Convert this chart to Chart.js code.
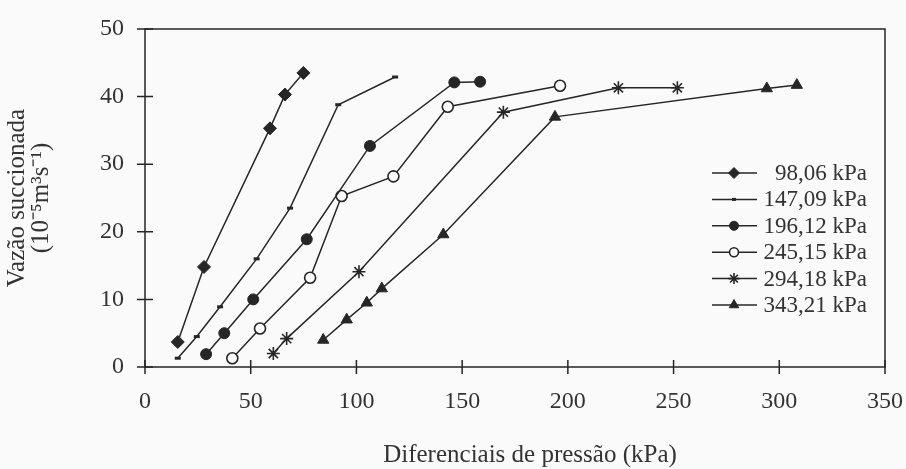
<!DOCTYPE html>
<html>
<head>
<meta charset="utf-8">
<script src="https://cdn.jsdelivr.net/npm/chart.js@4/dist/chart.umd.min.js"></script>
<style>
  html, body { margin: 0; padding: 0; background: #fafafa; }
  #wrap { width: 906px; height: 469px; }
</style>
</head>
<body>
<div id="wrap"><canvas id="chart" width="906" height="469"></canvas></div>
<script>
const SERIES_LABELS = ["98,06 kPa", "147,09 kPa", "196,12 kPa", "245,15 kPa", "294,18 kPa", "343,21 kPa"];

const p98x = [15.5, 27.9, 59.1, 66.2, 74.9];
const p98y = [3.7, 14.8, 35.3, 40.3, 43.5];

const p147x = [15.5, 24.5, 35.5, 52.8, 68.6, 91.4, 118.3];
const p147y = [1.3, 4.5, 8.9, 16.0, 23.5, 38.8, 42.9];

const p196x = [28.9, 37.5, 51.2, 76.5, 106.4, 146.3, 158.5];
const p196y = [1.9, 5.0, 10.0, 18.9, 32.7, 42.1, 42.2];

const p245x = [41.3, 54.4, 78.1, 93.0, 117.5, 143.2, 196.3];
const p245y = [1.3, 5.7, 13.2, 25.3, 28.2, 38.5, 41.6];

const p294x = [60.7, 67.0, 101.2, 169.5, 223.9, 251.8];
const p294y = [2.0, 4.2, 14.1, 37.7, 41.3, 41.3];

const p343x = [84.3, 95.4, 104.9, 112.0, 141.1, 193.9, 294.1, 308.3];
const p343y = [4.0, 7.0, 9.5, 11.6, 19.6, 37.0, 41.2, 41.7];

const X_TITLE = "Diferenciais de pressão (kPa)";
const Y_TITLE = ["Vazão succionada", "(10\u207B\u2075m\u00B3s\u207B\u00B9)"];

const INK = "#262626";
const TEXT = "#333333";
const FONT = "'Liberation Serif', 'Times New Roman', serif";

function toPoints(xs, ys) {
  return xs.map((x, i) => ({ x, y: ys[i] }));
}

const markers = [
  { pointStyle: "rectRot", pointRadius: 6.5, pointBackgroundColor: INK, pointBorderWidth: 1 },
  { pointStyle: "line", pointRadius: 3, pointBackgroundColor: INK, pointBorderWidth: 3 },
  { pointStyle: "circle", pointRadius: 5.5, pointBackgroundColor: INK, pointBorderWidth: 1 },
  { pointStyle: "circle", pointRadius: 5.5, pointBackgroundColor: "#fafafa", pointBorderWidth: 1.6 },
  { pointStyle: "star", pointRadius: 6.5, pointBackgroundColor: INK, pointBorderWidth: 1.6 },
  { pointStyle: "triangle", pointRadius: 6.5, pointBackgroundColor: INK, pointBorderWidth: 1 },
];

const allPoints = [
  toPoints(p98x, p98y),
  toPoints(p147x, p147y),
  toPoints(p196x, p196y),
  toPoints(p245x, p245y),
  toPoints(p294x, p294y),
  toPoints(p343x, p343y),
];

const datasets = allPoints.map((data, i) => ({
  label: SERIES_LABELS[i],
  data,
  showLine: true,
  tension: 0,
  borderColor: INK,
  borderWidth: 1.5,
  pointBorderColor: INK,
  pointHoverRadius: markers[i].pointRadius,
  ...markers[i],
}));

// frame around the plot, tick marks that cross the axes, x title a bit right of centre
const framePlugin = {
  id: "frame",
  afterDraw(chart) {
    const { ctx, chartArea: a, scales } = chart;
    ctx.save();
    ctx.strokeStyle = INK;
    ctx.lineWidth = 1.5;
    ctx.strokeRect(a.left, a.top, a.right - a.left, a.bottom - a.top);
    ctx.beginPath();
    scales.x.ticks.forEach((t) => {
      const px = scales.x.getPixelForValue(t.value);
      ctx.moveTo(px, a.bottom - 7);
      ctx.lineTo(px, a.bottom + 7);
    });
    scales.y.ticks.forEach((t) => {
      const py = scales.y.getPixelForValue(t.value);
      ctx.moveTo(a.left - 8, py);
      ctx.lineTo(a.left + 8, py);
    });
    ctx.stroke();

    ctx.font = `25px ${FONT}`;
    ctx.fillStyle = TEXT;
    ctx.textAlign = "center";
    ctx.textBaseline = "middle";
    ctx.fillText(X_TITLE, (a.left + a.right) / 2 + 15, a.bottom + 88);
    ctx.restore();
  },
};

// legend drawn inside the plot: line sample, marker, right-aligned label
const legendPlugin = {
  id: "innerLegend",
  afterDraw(chart) {
    const { ctx, chartArea: a } = chart;
    ctx.save();
    ctx.font = `23px ${FONT}`;
    ctx.textAlign = "right";
    ctx.textBaseline = "middle";
    chart.data.datasets.forEach((ds, i) => {
      const y = a.top + 144 + i * 26.4;
      ctx.strokeStyle = INK;
      ctx.lineWidth = 1.5;
      ctx.beginPath();
      ctx.moveTo(a.right - 173, y);
      ctx.lineTo(a.right - 128, y);
      ctx.stroke();
      ctx.fillStyle = ds.pointBackgroundColor;
      ctx.strokeStyle = ds.pointBorderColor;
      ctx.lineWidth = ds.pointBorderWidth;
      Chart.helpers.drawPoint(ctx, {
        pointStyle: ds.pointStyle,
        radius: ds.pointRadius - 1,
        rotation: 0,
        borderWidth: ds.pointBorderWidth,
      }, a.right - 151, y);
      ctx.fillStyle = TEXT;
      ctx.fillText(ds.label, a.right - 18, y + 1);
    });
    ctx.restore();
  },
};

new Chart(document.getElementById("chart"), {
  type: "scatter",
  data: { datasets },
  plugins: [framePlugin, legendPlugin],
  options: {
    responsive: false,
    devicePixelRatio: 1,
    animation: false,
    layout: { padding: { top: 29, right: 21, left: 0, bottom: 0 } },
    plugins: {
      legend: { display: false },
      tooltip: { enabled: false },
    },
    scales: {
      x: {
        type: "linear",
        min: 0,
        max: 350,
        afterFit(scale) {
          scale.height = 102;
          scale.paddingLeft = 0;
          scale.paddingRight = 0;
        },
        grid: { display: false, drawTicks: false },
        border: { display: false },
        ticks: {
          stepSize: 50,
          padding: 20,
          color: TEXT,
          font: { family: FONT, size: 24 },
        },
        title: { display: false },
      },
      y: {
        type: "linear",
        min: 0,
        max: 50,
        afterFit(scale) {
          scale.width = 145;
          scale.paddingTop = 0;
          scale.paddingBottom = 0;
        },
        grid: { display: false, drawTicks: false },
        border: { display: false },
        ticks: {
          stepSize: 10,
          padding: 21,
          color: TEXT,
          font: { family: FONT, size: 24 },
        },
        title: {
          display: true,
          text: Y_TITLE,
          color: TEXT,
          font: { family: FONT, size: 25, lineHeight: 0.95 },
          padding: { top: 6, bottom: 0 },
        },
      },
    },
  },
});
</script>
</body>
</html>
